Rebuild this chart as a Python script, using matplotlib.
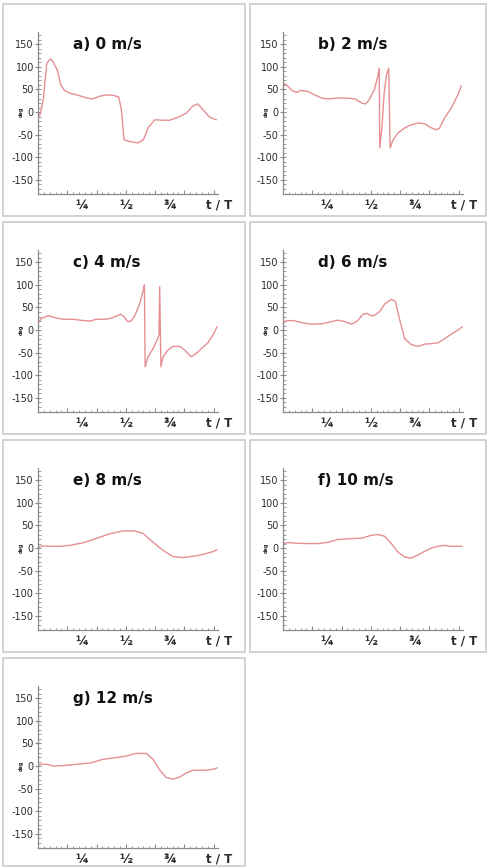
import matplotlib
matplotlib.use("Agg")
import matplotlib.pyplot as plt
from matplotlib.patches import Rectangle
from matplotlib.ticker import MultipleLocator

# ---- data (t/T, angle) ----
titles = ["a) 0 m/s", "b) 2 m/s", "c) 4 m/s", "d) 6 m/s", "e) 8 m/s", "f) 10 m/s", "g) 12 m/s"]

t_a = [0.00, 0.01, 0.03, 0.05, 0.07, 0.08, 0.11, 0.13, 0.15, 0.18, 0.23, 0.28, 0.31, 0.35, 0.39,
       0.43, 0.46, 0.475, 0.49, 0.52, 0.57, 0.60, 0.627, 0.665, 0.712, 0.75, 0.807, 0.845, 0.883,
       0.91, 0.94, 0.977, 1.015]
y_a = [-2, -8, 27, 108, 117, 115, 93, 60, 48, 42, 37, 31, 29, 35, 38,
       37, 33, 5, -61, -65, -68, -61, -35, -17, -18, -18, -10, -2, 14,
       18, 5, -11, -17]

t_b = [0.00, 0.02, 0.05, 0.08, 0.10, 0.14, 0.18, 0.22, 0.26, 0.31, 0.37, 0.41, 0.45, 0.47, 0.49,
       0.52, 0.54, 0.548, 0.551, 0.564, 0.576, 0.589, 0.602, 0.61, 0.627, 0.655, 0.693, 0.73,
       0.77, 0.807, 0.845, 0.873, 0.892, 0.92, 0.958, 0.996, 1.015]
y_b = [64, 60, 48, 43, 48, 46, 38, 31, 29, 31, 31, 29, 20, 18, 27,
       49, 79, 97, -79, -32, 42, 82, 97, -79, -61, -46, -35, -28,
       -24, -26, -35, -39, -35, -13, 9, 38, 58]

t_c = [0.00, 0.02, 0.06, 0.10, 0.14, 0.20, 0.26, 0.30, 0.33, 0.39, 0.43, 0.47, 0.49, 0.51, 0.53,
       0.55, 0.58, 0.60, 0.606, 0.61, 0.627, 0.655, 0.678, 0.689, 0.693, 0.70, 0.712, 0.74,
       0.77, 0.807, 0.835, 0.873, 0.90, 0.93, 0.968, 0.996, 1.019]
y_c = [16, 26, 32, 27, 24, 24, 21, 20, 24, 24, 28, 35, 30, 19, 20,
       31, 59, 89, 100, -81, -59, -41, -22, -10, 96, -81, -59, -44,
       -36, -36, -44, -59, -52, -41, -28, -11, 7]

t_d = [0.00, 0.02, 0.06, 0.10, 0.16, 0.22, 0.28, 0.31, 0.35, 0.39, 0.42, 0.456, 0.48, 0.50, 0.52,
       0.55, 0.58, 0.617, 0.64, 0.665, 0.693, 0.73, 0.77, 0.807, 0.845, 0.883, 0.92, 0.958,
       0.996, 1.019]
y_d = [15, 21, 21, 17, 13, 14, 19, 22, 19, 13, 19, 35, 37, 32, 32,
       41, 58, 68, 63, 22, -19, -32, -36, -31, -30, -28, -19, -9,
       0, 7]

t_e = [0.00, 0.03, 0.07, 0.125, 0.18, 0.26, 0.33, 0.41, 0.485, 0.551, 0.60, 0.655, 0.712, 0.77,
       0.826, 0.883, 0.94, 0.987, 1.019]
y_e = [2, 5, 4, 4, 6, 12, 21, 32, 38, 38, 32, 13, -5, -19,
       -21, -18, -14, -9, -4]

t_f = [0.00, 0.03, 0.07, 0.125, 0.20, 0.26, 0.31, 0.39, 0.45, 0.50, 0.54, 0.58, 0.617, 0.655,
       0.693, 0.73, 0.77, 0.807, 0.845, 0.883, 0.92, 0.958, 0.996, 1.019]
y_f = [10, 12, 11, 10, 10, 13, 19, 21, 22, 28, 30, 26, 10, -9,
       -20, -22, -15, -7, 0, 4, 6, 4, 4, 4]

t_g = [0.00, 0.02, 0.05, 0.09, 0.14, 0.22, 0.30, 0.37, 0.45, 0.50, 0.56, 0.617, 0.655, 0.693,
       0.73, 0.77, 0.807, 0.845, 0.883, 0.92, 0.958, 0.996, 1.019]
y_g = [2, 4, 4, 0, 1, 4, 7, 15, 19, 22, 28, 28, 15, -9,
       -25, -29, -24, -15, -9, -9, -9, -7, -4]

series = [(t_a, y_a), (t_b, y_b), (t_c, y_c), (t_d, y_d), (t_e, y_e), (t_f, y_f), (t_g, y_g)]
y_ticks = [-150, -100, -50, 0, 50, 100, 150]
x_labels = [(0.25, "¼"), (0.5, "½"), (0.75, "¾")]

W, H = 488, 868
fig = plt.figure(figsize=(W / 100, H / 100), dpi=100)
fig.patch.set_facecolor("white")

col_left = [3, 250]
col_width = [242, 236]
col_axoff = [35, 33]
row_top = [4, 222, 440, 658]
row_height = [212, 212, 212, 208]

line_col = "#e58f92"
axis_col = "#8a8a8a"
text_col = "#2b2b2b"

for i, ((tt, yy), title) in enumerate(zip(series, titles)):
    r, c = divmod(i, 2)
    px, py = col_left[c], row_top[r]
    pw, ph = col_width[c], row_height[r]
    # panel frame
    fig.patches.append(Rectangle((px / W, 1 - (py + ph) / H), pw / W, ph / H,
                                 transform=fig.transFigure, fill=False,
                                 edgecolor="#cfcfcf", linewidth=1.3))
    ax_l, ax_t, ax_w, ax_h = px + col_axoff[c], py + 28, 180, 162
    ax = fig.add_axes([ax_l / W, 1 - (ax_t + ax_h) / H, ax_w / W, ax_h / H])
    ax.set_facecolor("none")
    ax.plot(tt, yy, color=line_col, lw=1.0, solid_joinstyle="round")
    ax.set_xlim(0, 1.025)
    ax.set_ylim(-181, 177)
    for s in ("top", "right"):
        ax.spines[s].set_visible(False)
    for s in ("left", "bottom"):
        ax.spines[s].set_color(axis_col)
        ax.spines[s].set_linewidth(0.9)
    ax.set_yticks(y_ticks)
    ax.set_yticklabels([str(v) for v in y_ticks], fontsize=7, color=text_col)
    ax.yaxis.set_minor_locator(MultipleLocator(10))
    ax.set_xticks([1 / 6, 2 / 6, 3 / 6, 4 / 6, 5 / 6, 1.0])
    ax.set_xticklabels([])
    ax.xaxis.set_minor_locator(MultipleLocator(1 / 30))
    ax.tick_params(axis="y", which="major", direction="inout", length=4, width=0.8,
                   color=axis_col, pad=1)
    ax.tick_params(axis="y", which="minor", direction="in", length=2, width=0.6, color=axis_col)
    ax.tick_params(axis="x", which="major", direction="in", length=3, width=0.8, color=axis_col)
    ax.tick_params(axis="x", which="minor", direction="in", length=1.5, width=0.6, color=axis_col)
    for xv, lab in x_labels:
        ax.text(xv, -0.07, lab, transform=ax.get_xaxis_transform(), ha="center", va="center",
                fontsize=9, fontweight="bold", color=text_col)
    ax.text(1.03, -0.07, "t / T", transform=ax.get_xaxis_transform(), ha="center",
            va="center", fontsize=8.5, fontweight="bold", color=text_col)
    ax.text(0.2, 150, title, ha="left", va="center", fontsize=11, fontweight="bold",
            color="#111111")
    ax.text(-0.095, 0, "deg", transform=ax.get_yaxis_transform(), rotation=90,
            ha="center", va="center", fontsize=3.5, fontweight="bold", color=text_col)

fig.savefig("out.png", dpi=100, facecolor="white")
